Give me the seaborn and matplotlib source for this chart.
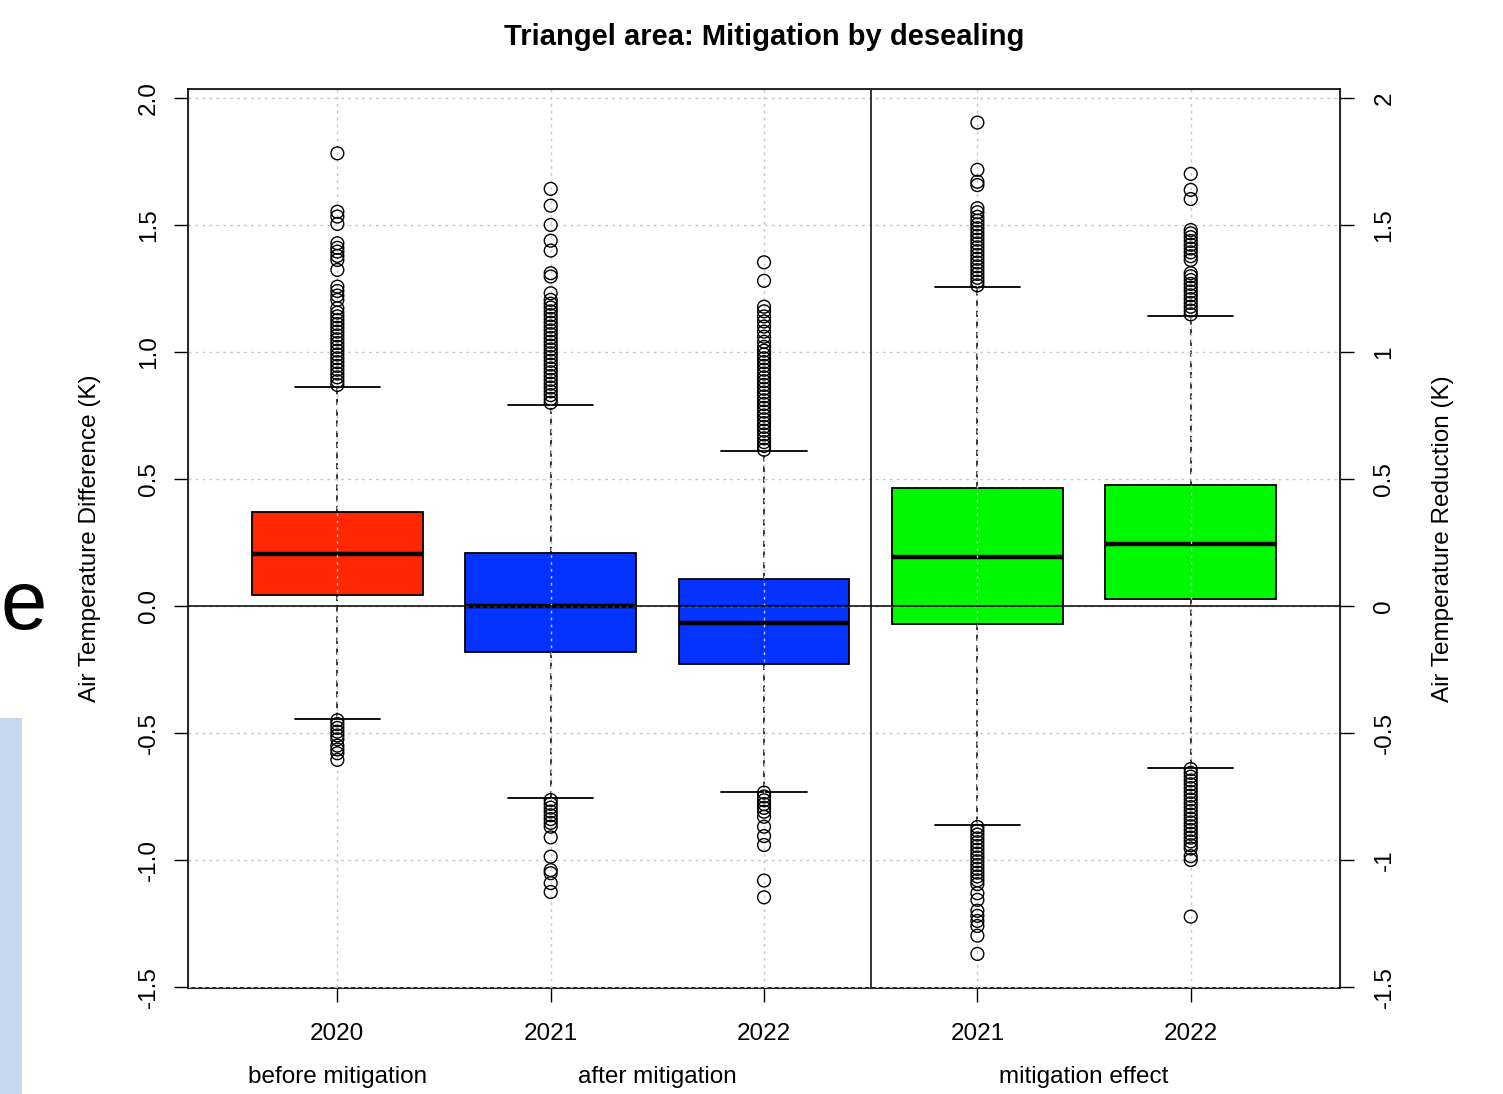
import numpy as np
import pandas as pd
import seaborn as sns
import matplotlib.pyplot as plt
from matplotlib.patches import Rectangle
from matplotlib.transforms import blended_transform_factory

# box statistics (K)
years = ['2020', '2021', '2022', '2021', '2022']
q1 = [0.042, -0.181, -0.228, -0.071, 0.028]
med = [0.205, 0.0, -0.067, 0.193, 0.244]
q3 = [0.369, 0.209, 0.106, 0.465, 0.476]
whislo = [-0.446, -0.757, -0.732, -0.862, -0.637]
whishi = [0.862, 0.791, 0.610, 1.256, 1.143]
box_colors = ['#FF2600', '#0433FF', '#0433FF', '#00F900', '#00F900']

# outliers
out_2020 = [0.87, 0.885, 0.9, 0.915, 0.93, 0.945, 0.96, 0.975, 0.99, 1.005, 1.02, 1.035,
            1.05, 1.065, 1.08, 1.095, 1.11, 1.125, 1.14, 1.155, 1.172, 1.205, 1.222, 1.24,
            1.257, 1.323, 1.362, 1.378, 1.395, 1.41, 1.428, 1.504, 1.533, 1.552, 1.782,
            -0.45, -0.465, -0.48, -0.495, -0.51, -0.525, -0.55, -0.565, -0.58, -0.606]
out_2021 = [0.8, 0.815, 0.83, 0.845, 0.86, 0.875, 0.89, 0.905, 0.92, 0.935, 0.95, 0.965,
            0.98, 0.995, 1.01, 1.025, 1.04, 1.055, 1.07, 1.085, 1.1, 1.115, 1.13, 1.145,
            1.16, 1.175, 1.19, 1.205, 1.231, 1.297, 1.31, 1.399, 1.438, 1.5, 1.576, 1.642,
            -0.764, -0.779, -0.794, -0.809, -0.824, -0.839, -0.854, -0.869, -0.911, -0.987,
            -1.04, -1.052, -1.091, -1.126]
out_2022 = [0.615, 0.63, 0.645, 0.66, 0.675, 0.69, 0.705, 0.72, 0.735, 0.75, 0.765, 0.78,
            0.795, 0.81, 0.825, 0.84, 0.855, 0.87, 0.885, 0.9, 0.915, 0.93, 0.945, 0.96,
            0.975, 0.99, 1.005, 1.02, 1.04, 1.06, 1.08, 1.1, 1.12, 1.14, 1.16, 1.178, 1.28,
            1.353, -0.735, -0.75, -0.765, -0.78, -0.795, -0.81, -0.83, -0.869, -0.906,
            -0.941, -1.081, -1.147]
out_eff_2021 = [1.262, 1.277, 1.292, 1.307, 1.322, 1.337, 1.352, 1.367, 1.382, 1.397, 1.412,
                1.427, 1.442, 1.457, 1.472, 1.487, 1.502, 1.517, 1.532, 1.55, 1.566, 1.657,
                1.67, 1.717, 1.903, -0.87, -0.885, -0.9, -0.915, -0.93, -0.945, -0.96,
                -0.975, -0.99, -1.005, -1.02, -1.035, -1.05, -1.065, -1.08, -1.095, -1.131,
                -1.157, -1.2, -1.22, -1.24, -1.26, -1.298, -1.37]
out_eff_2022 = [1.148, 1.163, 1.178, 1.193, 1.208, 1.223, 1.238, 1.253, 1.268, 1.283, 1.298,
                1.31, 1.362, 1.377, 1.392, 1.407, 1.422, 1.437, 1.452, 1.467, 1.48, 1.602,
                1.638, 1.701, -0.642, -0.657, -0.672, -0.687, -0.702, -0.717, -0.732,
                -0.747, -0.762, -0.777, -0.792, -0.807, -0.822, -0.837, -0.852, -0.867,
                -0.882, -0.897, -0.912, -0.927, -0.942, -0.955, -0.985, -1.0, -1.223]
outliers = [out_2020, out_2021, out_2022, out_eff_2021, out_eff_2022]

group_labels = ['before mitigation', 'after mitigation', 'mitigation effect']
group_pos = [1, 2.5, 4.5]
left_ticks = [-1.5, -1.0, -0.5, 0.0, 0.5, 1.0, 1.5, 2.0]
right_labels = ['-1.5', '-1', '-0.5', '0', '0.5', '1', '1.5', '2']

sns.set_style('ticks')
plt.rcParams['font.family'] = ['Liberation Sans', 'DejaVu Sans']
plt.rcParams['font.size'] = 17.5
plt.rcParams['text.color'] = 'black'
plt.rcParams['axes.labelcolor'] = 'black'
plt.rcParams['xtick.color'] = 'black'
plt.rcParams['ytick.color'] = 'black'

fig = plt.figure(figsize=(15.03, 10.94), dpi=100)
ax = fig.add_axes([0.1251, 0.0969, 0.7665, 0.8217])

positions = np.arange(1, len(years) + 1)
stats = []
for i in range(len(years)):
    stats.append({'q1': q1[i], 'med': med[i], 'q3': q3[i],
                  'whislo': whislo[i], 'whishi': whishi[i], 'fliers': []})

bp = ax.bxp(stats, positions=positions, widths=0.8, capwidths=0.4,
            showfliers=False, patch_artist=True,
            boxprops=dict(edgecolor='black', linewidth=1.3),
            whiskerprops=dict(color='black', linewidth=1.1, linestyle=(0, (4, 3))),
            capprops=dict(color='black', linewidth=1.3),
            medianprops=dict(color='black', linewidth=3.2))
for patch, c in zip(bp['boxes'], box_colors):
    patch.set_facecolor(c)

fl = pd.DataFrame({
    'pos': np.concatenate([[p] * len(o) for p, o in zip(positions, outliers)]),
    'value': np.concatenate(outliers),
})
sns.scatterplot(data=fl, x='pos', y='value', ax=ax, marker='o', s=85,
                fc='none', ec='black', linewidth=1.0, zorder=4)

# R style grid on top of the boxes
for p in positions:
    ax.axvline(p, color='#C8C8C8', linewidth=1.0, linestyle=(0, (2, 3)), zorder=2.6)
for t in left_ticks:
    ax.axhline(t, color='#C8C8C8', linewidth=1.0, linestyle=(0, (2, 3)), zorder=2.6)
ax.axhline(0, color='black', linewidth=1.1, zorder=2.7)
ax.axvline(3.5, color='black', linewidth=1.1, zorder=2.7)

ax.set_xlim(0.30, 5.70)
ax.set_ylim(-1.504, 2.035)
ax.set_xticks(positions)
ax.set_xticklabels(years)
ax.set_yticks(left_ticks)
ax.set_yticklabels(['%.1f' % t for t in left_ticks], rotation=90, va='center')
ax.tick_params(axis='both', direction='out', length=10, width=1.0, colors='black')
ax.tick_params(axis='x', pad=15)
ax.tick_params(axis='y', pad=10)
for s in ax.spines.values():
    s.set_linewidth(1.2)
    s.set_color('black')

ax.set_xlabel('')
ax.set_ylabel('Air Temperature Difference (K)')
ax.yaxis.set_label_coords(-0.085, 0.5)
ax.yaxis.label.set_va('center')

ax2 = ax.twinx()
ax2.set_ylim(ax.get_ylim())
ax2.set_yticks(left_ticks)
ax2.set_yticklabels(right_labels, rotation=90, va='center')
ax2.tick_params(axis='y', direction='out', length=10, width=1.0, pad=14, colors='black')
ax2.set_ylabel('Air Temperature Reduction (K)')
ax2.yaxis.set_label_coords(1.0895, 0.5)
ax2.yaxis.label.set_va('center')
ax2.yaxis.label.set_rotation(90)

trans = blended_transform_factory(ax.transData, ax.transAxes)
for lab, p in zip(group_labels, group_pos):
    ax.text(p, -0.0990, lab, transform=trans, ha='center', va='center')

ax.set_title('Triangel area: Mitigation by desealing', fontweight='bold',
             y=1.058, va='center', pad=0)

# leftovers of the slide the chart was cut from
fig.text(0.0, 0.445, 'e', fontsize=60, ha='left', va='center')
fig.patches.append(Rectangle((0, 0), 22 / 1503, 376 / 1094, transform=fig.transFigure,
                             facecolor='#C6D9F1', edgecolor='none'))

fig.savefig('out.png', dpi=100)
